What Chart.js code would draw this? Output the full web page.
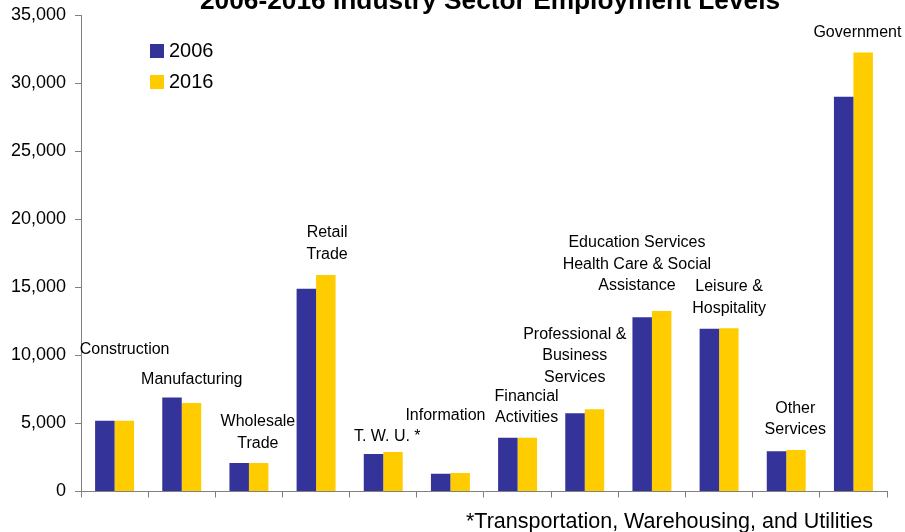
<!DOCTYPE html>
<html>
<head>
<meta charset="utf-8">
<script src="https://cdn.jsdelivr.net/npm/chart.js@4.4.1/dist/chart.umd.min.js"></script>
<style>
  html, body { margin: 0; padding: 0; background: #fff; }
  #wrap { width: 905px; height: 532px; }
</style>
</head>
<body>
<div id="wrap"><canvas id="chart" width="905" height="532"></canvas></div>
<script>
// 業種ごとのデータ
const sectors = [
  'Construction', 'Manufacturing', 'Wholesale Trade', 'Retail Trade', 'T. W. U.', 'Information',
  'Financial Activities', 'Professional & Business Services',
  'Education Services Health Care & Social Assistance', 'Leisure & Hospitality',
  'Other Services', 'Government'
];
const values2006 = [5200, 6900, 2100, 14900, 2750, 1300, 3950, 5750, 12800, 11950, 2950, 29000];
const values2016 = [5200, 6500, 2100, 15900, 2900, 1350, 3950, 6050, 13250, 12000, 3050, 32250];
const yTicks = [0, 5000, 10000, 15000, 20000, 25000, 30000, 35000];

// 棒の上に置くラベル（行ごと）
const labelLines = [
  ['Construction'], ['Manufacturing'], ['Wholesale', 'Trade'], ['Retail', 'Trade'],
  ['T. W. U. *'], ['Information'], ['Financial', 'Activities'],
  ['Professional &', 'Business', 'Services'],
  ['Education Services', 'Health Care & Social', 'Assistance'],
  ['Leisure &', 'Hospitality'], ['Other', 'Services'], ['Government']
];

const titleText = '2006-2016 Industry Sector Employment Levels';
const footnote = '*Transportation, Warehousing, and Utilities';

const FONT = '"Liberation Sans", Arial, sans-serif';

// ラベル・凡例・タイトルを描くプラグイン
const annotations = {
  id: 'annotations',
  afterDraw(chart, args, opts) {
    const ctx = chart.ctx;
    const x = chart.scales.x;
    const y = chart.scales.y;
    ctx.save();
    ctx.fillStyle = '#000';
    ctx.textAlign = 'center';
    ctx.textBaseline = 'middle';
    ctx.font = '16px ' + FONT;
    labelLines.forEach((lines, i) => {
      const cx = x.getPixelForValue(i) + opts.dx[i];
      const top = y.getPixelForValue(opts.at[i]);
      lines.forEach((t, k) => ctx.fillText(t, cx, top + k * 21.5));
    });

    // 凡例
    chart.data.datasets.forEach((ds, i) => {
      const ly = 44 + i * 31;
      ctx.fillStyle = ds.backgroundColor;
      ctx.fillRect(150, ly, 14, 14);
      ctx.fillStyle = '#000';
      ctx.textAlign = 'left';
      ctx.font = '20px ' + FONT;
      ctx.fillText(ds.label, 169, ly + 7);
    });

    // タイトル（上端で切れている）
    ctx.textAlign = 'center';
    ctx.textBaseline = 'alphabetic';
    ctx.font = 'bold 26.3px ' + FONT;
    ctx.fillText(titleText, 490, 9);

    // 注記
    ctx.font = '21.5px ' + FONT;
    ctx.fillText(footnote, 669.5, 528);
    ctx.restore();
  }
};

new Chart(document.getElementById('chart'), {
  type: 'bar',
  data: {
    labels: sectors,
    datasets: [
      { label: '2006', data: values2006, backgroundColor: '#333399' },
      { label: '2016', data: values2016, backgroundColor: '#FFCC00' }
    ]
  },
  options: {
    responsive: false,
    animation: false,
    layout: { padding: { top: 15, right: 18, bottom: 32.5, left: 0 } },
    datasets: { bar: { categoryPercentage: 0.58, barPercentage: 1 } },
    plugins: {
      legend: { display: false },
      tooltip: { enabled: false },
      annotations: {
        at: [10400, 8250, 5100, 19000, 4000, 5550, 7000, 11550, 18250, 15050, 6100, 33700],
        dx: [10, 10, 9, 11, 4, -5, 9, -10, -15, 10, 9, 4]
      }
    },
    scales: {
      x: {
        afterFit(scale) { scale.height = 8; },
        ticks: { display: false },
        grid: {
          offset: true,
          drawOnChartArea: false,
          drawTicks: true,
          tickLength: 6,
          color: '#808080'
        },
        border: { display: true, color: '#808080', width: 1 }
      },
      y: {
        min: 0,
        max: 35000,
        afterFit(scale) {
          scale.width = 81;
          scale.paddingTop = 0;
          scale.paddingBottom = 0;
        },
        afterBuildTicks(scale) { scale.ticks = yTicks.map(v => ({ value: v })); },
        ticks: {
          padding: 9,
          color: '#000',
          font: { size: 18, family: FONT },
          callback: v => v.toLocaleString('en-US')
        },
        grid: {
          drawOnChartArea: false,
          drawTicks: true,
          tickLength: 6,
          color: '#808080'
        },
        border: { display: true, color: '#808080', width: 1 }
      }
    }
  },
  plugins: [annotations]
});
</script>
</body>
</html>
